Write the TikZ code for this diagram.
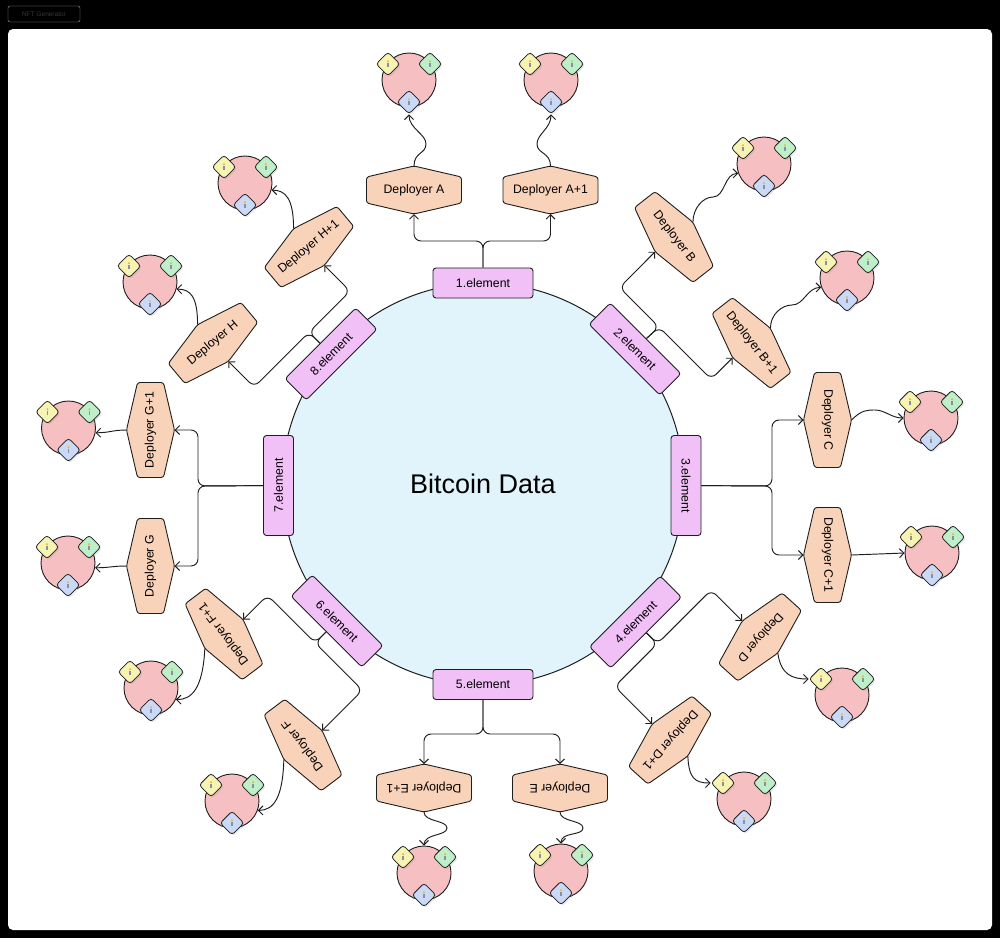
\documentclass[tikz,border=0pt]{standalone}
\usepackage{fontspec}
\setmainfont{Liberation Sans}
\usetikzlibrary{arrows.meta,shapes.geometric,calc,shadows}
\definecolor{bigc}{HTML}{E1F4FB}
\definecolor{elemf}{HTML}{F1C0F6}
\definecolor{hexf}{HTML}{F8D3B9}
\definecolor{pinkf}{HTML}{F6BFC1}
\definecolor{dyel}{HTML}{F7F3B2}
\definecolor{dgrn}{HTML}{BEEFC9}
\definecolor{dblu}{HTML}{C9D9F6}
\definecolor{lnc}{HTML}{1E1E1E}
\definecolor{iconY}{HTML}{E8B830}
\definecolor{iconG}{HTML}{8A8FA8}
\tikzset{
  elem/.style={draw=lnc, line width=0.9pt, fill=elemf, rounded corners=3pt, minimum width=100pt, minimum height=30pt, inner sep=0pt, font=\fontsize{12.3}{14}\selectfont},
  dtxt/.style={inner sep=0pt, font=\fontsize{12.3}{14}\selectfont},
  hexs/.style={draw=lnc, line width=0.9pt, fill=hexf, rounded corners=2.5pt},
  candc/.style={circle, draw=lnc, line width=0.9pt, fill=pinkf, minimum size=54pt, inner sep=0pt},
  dia/.style={diamond, draw=lnc, line width=0.8pt, minimum size=24pt, inner sep=0pt, aspect=1, rounded corners=3pt, drop shadow={opacity=0.18, shadow xshift=1.5pt, shadow yshift=-1.5pt}},
  link/.style={draw=lnc, line width=0.95pt, rounded corners=7pt, -{Straight Barb[length=4.5pt,width=9pt]}},
  wire/.style={draw=lnc, line width=0.95pt, -{Straight Barb[length=4.5pt,width=9pt]}},
  icon/.pic={\fill[iconY] (0,-2.8) circle (1.1pt); \fill[iconG] (-0.9,-1.4) rectangle (0.9,3.2);}
}
% deployer: name, x, y, rotation, text ; anchors (name n) outer tip, (name s) inner tip
\newcommand\depl[5]{%
  \begin{scope}[shift={(#2,#3)},rotate=#4]
    \path[hexs] (0,-24) -- (47.5,-13) -- (47.5,13) -- (0,24) -- (-47.5,13) -- (-47.5,-13) -- cycle;
    \coordinate (#1n) at (0,-24);
    \coordinate (#1s) at (0,24);
  \end{scope}
  \node[dtxt, rotate=#4] (#1) at (#2,#3) {#5};}
\newcommand\cand[3]{%
  \node[candc] (#1) at (#2,#3) {};
  \node[dia, fill=dyel] (#1y) at ({#2-21},{#3-16}) {};
  \node[dia, fill=dgrn] (#1g) at ({#2+21},{#3-16}) {};
  \node[dia, fill=dblu] (#1b) at ({#2},{#3+22}) {};
  \pic at (#1y) {icon}; \pic at (#1g) {icon}; \pic at (#1b) {icon};}
\begin{document}
\begin{tikzpicture}[x=1pt,y=-1pt]
\useasboundingbox (0,0) rectangle (1000,938);
\fill[black] (0,0) rectangle (1000,938);
\fill[white, rounded corners=5pt] (8,29) rectangle (992,930);
\node[draw=gray!70, rounded corners=2pt, minimum width=72pt, minimum height=16pt, inner sep=0pt, text=gray!45!black, font=\fontsize{6.5}{7}\selectfont] (tag) at (44,14) {NFT Generator};

% central circle
\node[circle, draw=lnc, line width=1pt, fill=bigc, minimum size=402pt, inner sep=0pt] (core) at (483,484) {};
\node[inner sep=0pt, font=\fontsize{27}{30}\selectfont] (title) at (483,484) {Bitcoin Data};

% elements
\node[elem] (e1) at (483,283) {1.element};
\node[elem, rotate=-45] (e2) at (635,349) {2.element};
\node[elem, rotate=-90] (e3) at (686,485.5) {3.element};
\node[elem, rotate=45] (e4) at (635.5,622) {4.element};
\node[elem] (e5) at (483,684.5) {5.element};
\node[elem, rotate=-45] (e6) at (337,621) {6.element};
\node[elem, rotate=90] (e7) at (278.5,485.5) {7.element};
\node[elem, rotate=45] (e8) at (331,354) {8.element};

% deployers
\depl{dA}{414}{190}{0}{Deployer A}
\depl{dAA}{550.5}{190}{0}{Deployer A+1}
\depl{dB}{674}{237}{-52}{Deployer B}
\depl{dBB}{751.5}{343}{-52}{Deployer B+1}
\depl{dC}{827.5}{420}{-90}{Deployer C}
\depl{dCC}{827.5}{555}{-90}{Deployer C+1}
\depl{dD}{760}{637}{-132}{Deployer D}
\depl{dDD}{670}{740}{-132}{Deployer D+1}
\depl{dE}{560}{788}{180}{Deployer E}
\depl{dEE}{424}{788}{180}{Deployer E+1}
\depl{dF}{303}{745}{127}{Deployer F}
\depl{dFF}{224}{634}{127}{Deployer F+1}
\depl{dG}{150.5}{566}{90}{Deployer G}
\depl{dGG}{150.5}{430}{90}{Deployer G+1}
\depl{dH}{213}{343}{40}{Deployer H}
\depl{dHH}{309}{247}{40}{Deployer H+1}

% candidate circles
\cand{cA}{409}{80}
\cand{cAA}{551}{80}
\cand{cB}{764}{164}
\cand{cBB}{847}{278}
\cand{cC}{931}{418}
\cand{cCC}{932}{553}
\cand{cD}{842}{695}
\cand{cDD}{744}{799}
\cand{cE}{561}{871}
\cand{cEE}{424}{873}
\cand{cF}{232}{801}
\cand{cFF}{151}{688}
\cand{cG}{68}{563}
\cand{cGG}{68.5}{428}
\cand{cH}{150}{282}
\cand{cHH}{245}{183}

% element -> deployer links
\draw[link] (e1) -- (483,241) -- (414,241) -- (dAs);
\draw[link] (e1) -- (483,241) -- (550.5,241) -- (dAAs);
\draw[link] (e2) -- (659,327) -- (619.5,287.5) -- (dBs);
\draw[link] (e2) -- (659,327) -- (711.2,379.2) -- (dBBs);
\draw[link] (e3) -- (772,486) -- (772,420) -- (dCs);
\draw[link] (e3) -- (772,486) -- (772,555) -- (dCCs);
\draw[link] (e4) -- (657.4,643.7) -- (711.2,589.9) -- (dDs);
\draw[link] (e4) -- (657.4,643.7) -- (614.7,686.4) -- (dDDs);
\draw[link] (e5) -- (483,734) -- (560,734) -- (dEs);
\draw[link] (e5) -- (483,734) -- (424,734) -- (dEEs);
\draw[link] (e6) -- (315.1,642.9) -- (267.5,595.3) -- (dFFs);
\draw[link] (e6) -- (315.1,642.9) -- (362.5,690.3) -- (dFs);
\draw[link] (e7) -- (198,486) -- (198,430) -- (dGGs);
\draw[link] (e7) -- (198,486) -- (198,566) -- (dGs);
\draw[link] (e8) -- (308.9,332.3) -- (350.1,291.1) -- (dHHs);
\draw[link] (e8) -- (308.9,332.3) -- (254.1,387.1) -- (dHs);

% deployer -> circle wires
\draw[wire] (dAn) .. controls +(0,-14) and +(0,10) .. (426,144) .. controls +(0,-10) and +(0,14) .. (cAb.south);
\draw[wire] (dAAn) .. controls +(0,-14) and +(0,10) .. (537,144) .. controls +(0,-10) and +(0,14) .. (cAAb.south);
\draw[wire] (dBn) .. controls +(0,-14) and +(-10,0) .. (713,197) .. controls +(12,0) and +(-14,0) .. (cB.200);
\draw[wire] (dBBn) .. controls +(0,-14) and +(-10,0) .. (792,305) .. controls +(12,0) and +(-14,0) .. (cBB.200);
\draw[wire] (dCn) .. controls +(10,-10) and +(-8,0) .. (875,410) .. controls +(10,0) and +(-12,0) .. (cC.west);
\draw[wire] (dCCn) -- (cCC.west);
\draw[wire] (dDn) .. controls +(3,22) and +(-16,0) .. (cDy.west);
\draw[wire] (dDDn) .. controls +(1,22) and +(-16,0) .. (cDDy.west);
\draw[wire] (dEn) .. controls +(0,10) and +(0,-8) .. (583,828) .. controls +(0,8) and +(0,-12) .. (cE.north);
\draw[wire] (dEEn) .. controls +(0,10) and +(0,-8) .. (447,828) .. controls +(0,8) and +(0,-12) .. (cEE.north);
\draw[wire] (dFn) .. controls +(-1,38) and +(16,0) .. (cF.-20);
\draw[wire] (dFFn) .. controls +(-2,40) and +(16,0) .. (cFF.-25);
\draw[wire] (dGn) .. controls +(-14,0) and +(14,0) .. (cG.-10);
\draw[wire] (dGGn) .. controls +(-14,0) and +(14,0) .. (cGG.-10);
\draw[wire] (dHn) .. controls +(0,-28) and +(14,0) .. (cH.-15);
\draw[wire] (dHHn) .. controls +(0,-30) and +(14,0) .. (cHH.-15);
\end{tikzpicture}
\end{document}
